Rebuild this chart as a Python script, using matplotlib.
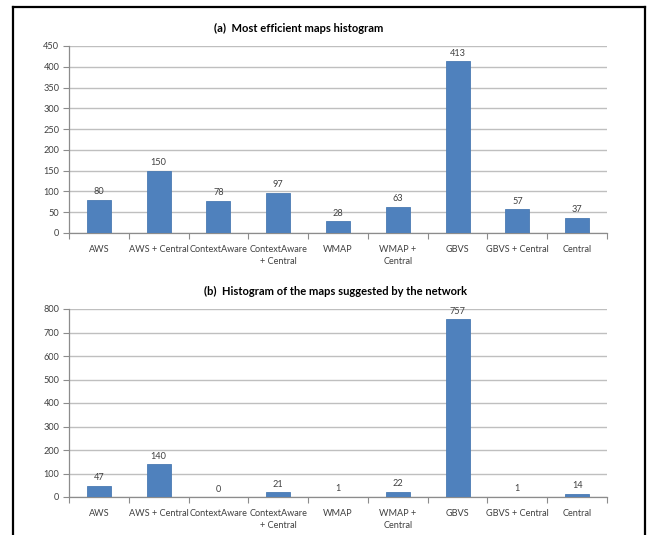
import matplotlib
matplotlib.use("Agg")
import matplotlib.pyplot as plt
from matplotlib.lines import Line2D
import numpy as np

plt.rcParams['font.family'] = ['Lato', 'DejaVu Sans']

categories = ["AWS", "AWS + Central", "ContextAware", "ContextAware\n+ Central",
              "WMAP", "WMAP +\nCentral", "GBVS", "GBVS + Central", "Central"]
efficient_counts = [80, 150, 78, 97, 28, 63, 413, 57, 37]
suggested_counts = [47, 140, 0, 21, 1, 22, 757, 1, 14]

title_a = "(a)  Most efficient maps histogram"
title_b = "(b)  Histogram of the maps suggested by the network"

W, H = 649, 535
fig = plt.figure(figsize=(W / 100, H / 100), dpi=100)
fig.patch.set_facecolor("white")

BAR = "#4F81BD"
EDGE = "#4A7AB3"
GRID = "#BFBFBF"
AXIS = "#8C8C8C"
TEXT = "#404040"


def px_rect(x0, y0, x1, y1):
    return [x0 / W, 1 - y1 / H, (x1 - x0) / W, (y1 - y0) / H]


def draw_panel(ax, values, ymax, ystep, label_pad):
    x = np.arange(len(categories))
    ax.bar(x, values, width=0.4, color=BAR, edgecolor=EDGE, linewidth=0.6, zorder=3)
    ax.set_xlim(-0.5, len(categories) - 0.5)
    ax.set_ylim(0, ymax)
    ax.set_yticks(np.arange(0, ymax + 1, ystep))
    ax.yaxis.grid(True, color=GRID, linewidth=1.0, zorder=0)
    ax.set_axisbelow(True)
    for s in ("top", "right"):
        ax.spines[s].set_visible(False)
    for s in ("left", "bottom"):
        ax.spines[s].set_color(AXIS)
        ax.spines[s].set_linewidth(0.9)
    ax.set_xticks(x)
    ax.set_xticklabels(categories, fontsize=6.6, color=TEXT, linespacing=1.3)
    ax.set_xticks(np.arange(-0.5, len(categories)), minor=True)
    ax.tick_params(axis="x", which="major", length=0, pad=9)
    ax.tick_params(axis="x", which="minor", length=4, color=AXIS, width=0.8)
    ax.tick_params(axis="y", length=4, color=AXIS, width=0.8, labelsize=6.6,
                   labelcolor=TEXT, pad=3)
    for xi, v in zip(x, values):
        ax.annotate(str(v), (xi, v), xytext=(0, label_pad), textcoords="offset points",
                    ha="center", va="bottom", fontsize=6.6, color=TEXT, zorder=4)


ax_a = fig.add_axes(px_rect(69, 46, 607, 233))
draw_panel(ax_a, efficient_counts, 450, 50, 2.5)

ax_b = fig.add_axes(px_rect(69, 309, 607, 497))
draw_panel(ax_b, suggested_counts, 800, 100, 2.5)

fig.text(299 / W, 1 - 28 / H, title_a, ha="center", va="center",
         fontsize=8, fontweight="bold", color="black")
fig.text(335 / W, 1 - 291 / H, title_b, ha="center", va="center",
         fontsize=8, fontweight="bold", color="black")

# frame around the figure (left, top and right sides)
for xs, ys in [([13, 13], [7, 535]), ([13, 645], [7, 7]), ([645, 645], [7, 535])]:
    fig.add_artist(Line2D([v / W for v in xs], [1 - v / H for v in ys],
                          color="black", linewidth=1.6))

fig.savefig("out.png", dpi=100)
